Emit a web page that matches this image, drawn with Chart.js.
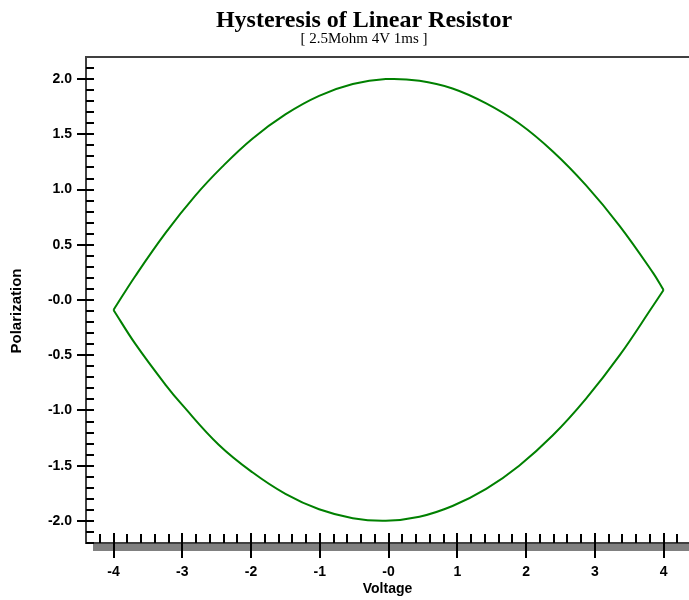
<!DOCTYPE html>
<html>
<head>
<meta charset="utf-8">
<title>Hysteresis of Linear Resistor</title>
<script src="https://cdn.jsdelivr.net/npm/chart.js@4"></script>
<style>
  html, body { margin: 0; padding: 0; background: #fff; }
  canvas { display: block; }
</style>
</head>
<body>
<canvas id="loopChart" width="689" height="600"></canvas>
<script>
'use strict';

/* --- Data --- */
const TITLE = 'Hysteresis of Linear Resistor';
const SUBTITLE = '[ 2.5Mohm 4V 1ms ]';
const X_TITLE = 'Voltage';
const Y_TITLE = 'Polarization';

// upper branch, voltage rising -4 -> 4
const UPPER_V = [-4.00, -3.68, -3.24, -2.81, -2.42, -1.98, -1.50, -1.01, -0.52, -0.04, 0.45, 0.93, 1.42, 1.90, 2.39, 2.87, 3.36, 3.85, 4.00];
const UPPER_P = [-0.09, 0.22, 0.61, 0.945, 1.205, 1.46, 1.68, 1.848, 1.955, 2.00, 1.985, 1.915, 1.78, 1.598, 1.345, 1.04, 0.672, 0.243, 0.09];

// lower branch, voltage falling 4 -> -4 (stored left to right)
const LOWER_V = [-4.00, -3.68, -3.24, -3.00, -2.47, -1.98, -1.50, -1.01, -0.52, -0.04, 0.45, 0.93, 1.42, 1.90, 2.39, 2.87, 3.36, 3.85, 4.00];
const LOWER_P = [-0.09, -0.40, -0.77, -0.95, -1.31, -1.56, -1.755, -1.895, -1.975, -1.998, -1.962, -1.865, -1.71, -1.50, -1.225, -0.895, -0.502, -0.05, 0.09];

const X_TICKS = [-4, -3, -2, -1, 0, 1, 2, 3, 4];
const X_TICK_LABELS = ['-4', '-3', '-2', '-1', '-0', '1', '2', '3', '4'];
const Y_TICKS = [2.0, 1.5, 1.0, 0.5, 0, -0.5, -1.0, -1.5, -2.0];
const Y_TICK_LABELS = ['2.0', '1.5', '1.0', '0.5', '-0.0', '-0.5', '-1.0', '-1.5', '-2.0'];

const X_MIN = -4.4, X_MAX = 4.37, X_MINOR = 0.2;
const Y_MIN = -2.2, Y_MAX = 2.2, Y_MINOR = 0.1;

const LINE_COLOR = 'rgb(0,128,0)';
const SANS = '"Liberation Sans", Arial, sans-serif';
const SERIF = '"Liberation Serif", "Times New Roman", serif';

const toPoints = (xs, ys) => xs.map((v, i) => ({ x: v, y: ys[i] }));

/* --- Frame, ticks and the grey bar under the x axis --- */
const axesFrame = {
  id: 'axesFrame',
  beforeDatasetsDraw(chart) {
    const { ctx, chartArea: a, scales: { x, y } } = chart;
    const px = v => Math.round(x.getPixelForValue(v));
    const py = v => Math.round(y.getPixelForValue(v));
    ctx.save();

    ctx.fillStyle = '#808080';
    ctx.fillRect(a.left + 7, a.bottom + 1, a.right - a.left - 7, 7);

    ctx.strokeStyle = '#404040';
    ctx.lineWidth = 2;
    ctx.beginPath();
    ctx.moveTo(a.right, a.top);
    ctx.lineTo(a.left, a.top);
    ctx.lineTo(a.left, a.bottom);
    ctx.lineTo(a.right, a.bottom);
    ctx.stroke();

    ctx.strokeStyle = '#000';
    ctx.lineWidth = 2;
    ctx.beginPath();
    // y minor / major
    for (let v = Math.ceil(Y_MIN / Y_MINOR) * Y_MINOR; v <= Y_MAX - 0.05; v += Y_MINOR) {
      const yy = py(+v.toFixed(2));
      if (yy <= a.top + 2) continue;
      ctx.moveTo(a.left, yy); ctx.lineTo(a.left + 8, yy);
    }
    Y_TICKS.forEach(v => { const yy = py(v); ctx.moveTo(a.left - 9, yy); ctx.lineTo(a.left + 8, yy); });
    // x minor / major
    for (let v = Math.ceil(X_MIN / X_MINOR) * X_MINOR; v <= X_MAX; v += X_MINOR) {
      const xx = px(+v.toFixed(2));
      if (xx <= a.left + 2) continue;
      ctx.moveTo(xx, a.bottom - 9); ctx.lineTo(xx, a.bottom);
    }
    X_TICKS.forEach(v => { const xx = px(v); ctx.moveTo(xx, a.bottom - 10); ctx.lineTo(xx, a.bottom + 15); });
    ctx.stroke();
    ctx.restore();
  }
};

/* --- Title, subtitle and the y axis title --- */
const titleBlock = {
  id: 'titleBlock',
  afterDraw(chart) {
    const { ctx } = chart;
    ctx.save();
    ctx.fillStyle = '#000';
    ctx.textAlign = 'center';
    ctx.textBaseline = 'alphabetic';
    ctx.font = 'bold 24px ' + SERIF;
    ctx.fillText(TITLE, 364, 27);
    ctx.font = '15px ' + SERIF;
    ctx.fillText(SUBTITLE, 364, 43);

    ctx.translate(17, 311);
    ctx.rotate(-Math.PI / 2);
    ctx.textBaseline = 'middle';
    ctx.font = 'bold 15px ' + SANS;
    ctx.fillText(Y_TITLE, 0, 0);
    ctx.restore();
  }
};

const ctx = document.getElementById('loopChart').getContext('2d');
new Chart(ctx, {
  type: 'scatter',
  data: {
    datasets: [
      { label: 'upper', data: toPoints(UPPER_V, UPPER_P) },
      { label: 'lower', data: toPoints(LOWER_V, LOWER_P) }
    ]
  },
  options: {
    responsive: false,
    animation: false,
    devicePixelRatio: 1,
    layout: { padding: { top: 57, left: 0, right: 0, bottom: 0 } },
    elements: {
      point: { radius: 0, hoverRadius: 0 },
      line: { borderColor: LINE_COLOR, borderWidth: 2, tension: 0.4, fill: false }
    },
    datasets: { scatter: { showLine: true, borderColor: LINE_COLOR } },
    plugins: { legend: { display: false }, tooltip: { enabled: false }, title: { display: false } },
    scales: {
      x: {
        type: 'linear', min: X_MIN, max: X_MAX,
        grid: { display: false, drawTicks: false },
        border: { display: false },
        afterBuildTicks: s => { s.ticks = X_TICKS.map(value => ({ value })); },
        afterFit: s => { s.height = 57; },
        ticks: {
          autoSkip: false, maxRotation: 0, padding: 21, color: '#000',
          font: { family: SANS, size: 14, weight: 'bold' },
          callback: (v, i) => X_TICK_LABELS[i]
        },
        title: {
          display: true, text: X_TITLE, color: '#000',
          font: { family: SANS, size: 14, weight: 'bold' },
          padding: { top: 0, bottom: 2 }
        }
      },
      y: {
        type: 'linear', min: Y_MIN, max: Y_MAX,
        grid: { display: false, drawTicks: false },
        border: { display: false },
        afterBuildTicks: s => { s.ticks = Y_TICKS.map(value => ({ value })); },
        afterFit: s => { s.width = 86; },
        ticks: {
          autoSkip: false, padding: 14, color: '#000',
          font: { family: SANS, size: 14, weight: 'bold' },
          callback: (v, i) => Y_TICK_LABELS[i]
        }
      }
    }
  },
  plugins: [axesFrame, titleBlock]
});
</script>
</body>
</html>
